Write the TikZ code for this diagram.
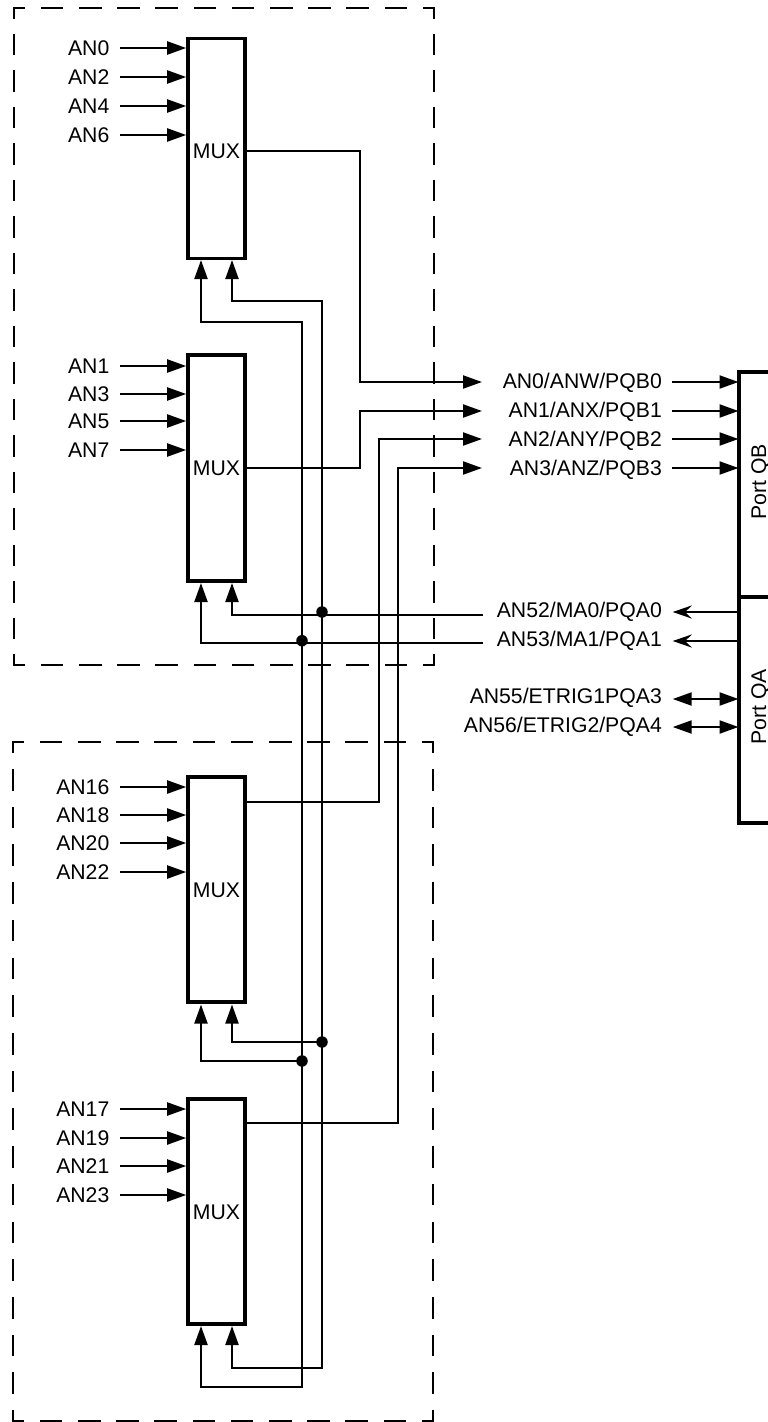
\documentclass[tikz,border=0pt]{standalone}
\usepackage{fontspec}
\setmainfont{Liberation Sans}
\usetikzlibrary{arrows.meta}
\tikzset{
  thinw/.style={line width=2.1pt,line join=miter},
  tiparrow/.style={thinw,-{Triangle[length=19pt,width=13pt]}},
  openarrow/.style={thinw,-{Stealth[length=19pt,width=13pt,inset=6.5pt]}},
  bothway/.style={thinw,{Triangle[length=19pt,width=13pt]}-{Triangle[length=19pt,width=13pt]}},
  muxbox/.style={draw,line width=3.6pt,minimum width=57pt,minimum height=#1,inner sep=0pt},
  lab/.style={inner sep=0pt,font=\fontsize{21.2}{24}\selectfont,anchor=base east},
  muxlab/.style={inner sep=0pt,font=\fontsize{21.2}{24}\selectfont,anchor=base},
  portlab/.style={inner sep=0pt,rotate=90,anchor=base,font=\fontsize{21.2}{24}\selectfont},
  dashh/.style={line width=2.1pt,line cap=rect,dash pattern=on 20.5pt off 17.68pt,dash phase=10.25pt},
  dashva/.style={line width=2.1pt,line cap=rect,dash pattern=on 19.5pt off 17pt,dash phase=9.75pt},
  dashvb/.style={line width=2.1pt,line cap=rect,dash pattern=on 19.5pt off 18.22pt,dash phase=9.75pt},
  jdot/.style={circle,fill=black,inner sep=0pt,minimum size=11.5pt},
  portline/.style={line width=3.6pt}
}
\begin{document}
\begin{tikzpicture}[x=1pt,y=-1pt]
\useasboundingbox (0,0) rectangle (768,1422);
% dashed frames, one side at a time so that each corner is closed
\draw[dashh] (14,8) -- (434,8);
\draw[dashh] (14,665) -- (434,665);
\draw[dashva] (14,8) -- (14,665);
\draw[dashva] (434,8) -- (434,665);
\draw[dashh] (13,742) -- (433,742);
\draw[dashh] (13,1421) -- (433,1421);
\draw[dashvb] (13,742) -- (13,1421);
\draw[dashvb] (433,742) -- (433,1421);
% MUX boxes
\node[muxbox=220pt] (m1) at (216.5,148.5) {};
\node[muxbox=226pt] (m2) at (216.5,468) {};
\node[muxbox=225pt] (m3) at (216.5,889.5) {};
\node[muxbox=225pt] (m4) at (216.5,1211.5) {};
\node[muxlab] (m1t) at (216.5,158.7) {MUX};
\node[muxlab] (m2t) at (216.5,475.5) {MUX};
\node[muxlab] (m3t) at (216.5,897.5) {MUX};
\node[muxlab] (m4t) at (216.5,1219.7) {MUX};
% left labels
\foreach \n/\t/\y/\m in {a0/AN0/48/m1,a2/AN2/77/m1,a4/AN4/106/m1,a6/AN6/135/m1,
  a1/AN1/366/m2,a3/AN3/394/m2,a5/AN5/421/m2,a7/AN7/450/m2,
  a16/AN16/787/m3,a18/AN18/815/m3,a20/AN20/843/m3,a22/AN22/872/m3,
  a17/AN17/1109/m4,a19/AN19/1138/m4,a21/AN21/1166/m4,a23/AN23/1195/m4}{
  \node[lab] (\n) at (109.5,\y+7.7) {\t};
  \draw[tiparrow] (120,\y) -- (\m.west |- 0,\y);
}
% outgoing labels
\node[lab] (q0) at (662,388.3) {AN0/ANW/PQB0};
\node[lab] (q1) at (662,417.5) {AN1/ANX/PQB1};
\node[lab] (q2) at (662,446.5) {AN2/ANY/PQB2};
\node[lab] (q3) at (662,475.5) {AN3/ANZ/PQB3};
\node[lab] (p0) at (662,617) {AN52/MA0/PQA0};
\node[lab] (p1) at (662,646) {AN53/MA1/PQA1};
\node[lab] (p3) at (662,703.5) {AN55/ETRIG1PQA3};
\node[lab] (p4) at (662,732.5) {AN56/ETRIG2/PQA4};
% port arrows
\foreach \y in {382,411,439,468} \draw[tiparrow] (672,\y) -- (738.5,\y);
\coordinate (l0) at (739,612);
\coordinate (l1) at (739,641);
\draw[openarrow] (l0) -- (672.7,612);
\draw[openarrow] (l1) -- (672.7,641);
\draw[bothway] (672.7,699) -- (738.5,699);
\draw[bothway] (672.7,727) -- (738.5,727);
% ports
\coordinate (qbtop) at (768,372);
\coordinate (qbcorner) at (739,372);
\coordinate (div) at (739,597);
\coordinate (divr) at (768,597);
\coordinate (qacorner) at (739,823);
\coordinate (qabot) at (768,823);
\draw[portline] (qbtop) -- (qbcorner) -- (qacorner) -- (qabot);
\draw[portline] (div) -- (divr);
\node[portlab] (qb) at (766,482) {Port QB};
\node[portlab] (qa) at (766,707) {Port QA};
% mux outputs
\coordinate (t0) at (482,382);
\coordinate (t1) at (482,411);
\coordinate (t2) at (482,439);
\coordinate (t3) at (482,468);
\draw[tiparrow] (m1.east |- 0,151) -| (360,382) -- (t0);
\draw[tiparrow] (m2.east |- 0,468) -| (360,411) -- (t1);
\draw[tiparrow] (m3.east |- 0,802) -| (379,439) -- (t2);
\draw[tiparrow] (m4.east |- 0,1123) -| (398,468) -- (t3);
% select lines
\node[jdot] (j1) at (322,612) {};
\node[jdot] (j2) at (302,640.7) {};
\node[jdot] (j3) at (322,1042) {};
\node[jdot] (j4) at (302,1061) {};
\coordinate (e0) at (483,615);
\coordinate (e1) at (483,643);
\draw[tiparrow] (e0) -- (232,615) -- (232,583);
\draw[tiparrow] (e1) -- (201,643) -- (201,583);
\draw[tiparrow] (j2.center) |- (201,322) -- (201,260);
\draw[tiparrow] (j1.center) |- (232,301) -- (232,260);
\draw[tiparrow] (j3.center) -- (232,1042) -- (232,1004.5);
\draw[tiparrow] (j4.center) -- (201,1061) -- (201,1004.5);
\draw[tiparrow] (j2.center) |- (201,1387) -- (201,1326);
\draw[tiparrow] (j1.center) |- (232,1368) -- (232,1326);
\end{tikzpicture}
\end{document}
